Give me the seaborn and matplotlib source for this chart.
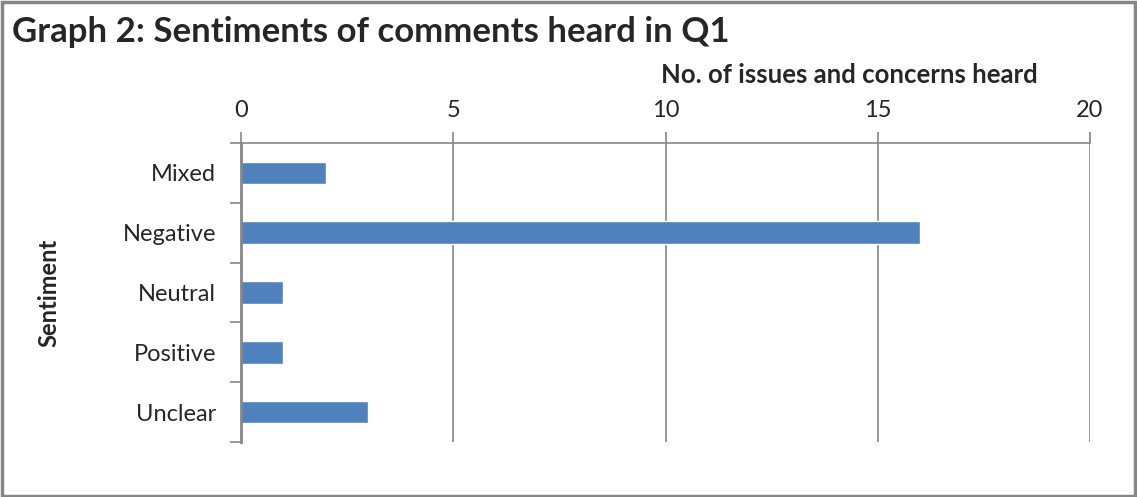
import matplotlib
matplotlib.use("Agg")
import matplotlib.pyplot as plt
import seaborn as sns
import pandas as pd
from matplotlib.patches import Rectangle

categories = ["Mixed", "Negative", "Neutral", "Positive", "Unclear"]
counts = [2, 16, 1, 1, 3]
xticks = [0, 5, 10, 15, 20]

sns.set_theme(style="white")
plt.rcParams['font.family'] = ['Lato', 'DejaVu Sans']

df = pd.DataFrame({"Sentiment": categories, "Count": counts})

fig = plt.figure(figsize=(11.37, 4.97), dpi=100)
ax = fig.add_axes([241/1137, 1-442/497, (1090-241)/1137, (442-143)/497])

sns.barplot(data=df, y="Sentiment", x="Count", order=categories, color="#4F81BD",
            width=0.38, ax=ax, saturation=1)

gray = "#868686"
ax.set_xlim(0, 20)
ax.set_ylim(len(categories)-0.5, -0.5)
ax.set_xticks(xticks)
ax.set_xticklabels([str(t) for t in xticks], fontsize=17)
ax.xaxis.tick_top()
ax.xaxis.set_label_position("top")
ax.grid(axis="x", color=gray, linewidth=1.2)
ax.set_axisbelow(True)

ax.set_yticks(range(len(categories)))
ax.set_yticklabels(categories, fontsize=17)
ax.tick_params(axis="y", length=0, pad=18)
# boundary ticks on left spine
ax.set_yticks([i - 0.5 for i in range(len(categories)+1)], minor=True)
ax.tick_params(axis="y", which="minor", length=8, width=1.2, color=gray, left=True)
ax.tick_params(axis="x", which="major", length=8, width=1.2, color=gray, top=True, pad=8)

for s in ["right", "bottom"]:
    ax.spines[s].set_visible(False)
for s in ["left", "top"]:
    ax.spines[s].set_color(gray)
ax.spines["left"].set_linewidth(2)
ax.spines["top"].set_linewidth(1.2)

ax.set_xlabel("No. of issues and concerns heard", fontsize=18.5, fontweight="bold")
ax.xaxis.set_label_coords(0.717, 1.2)
ax.set_ylabel("Sentiment", fontsize=17, fontweight="bold")
ax.yaxis.set_label_coords(-0.213, 0.5)

fig.text(12/1137, 1-32/497, "Graph 2: Sentiments of comments heard in Q1", fontsize=25,
         fontweight="bold", va="center", ha="left")

fig.patches.append(Rectangle((0.002, 0.002), 0.996, 0.994, transform=fig.transFigure,
                             fill=False, edgecolor=gray, linewidth=2.5))

fig.savefig("out.png", dpi=100)
